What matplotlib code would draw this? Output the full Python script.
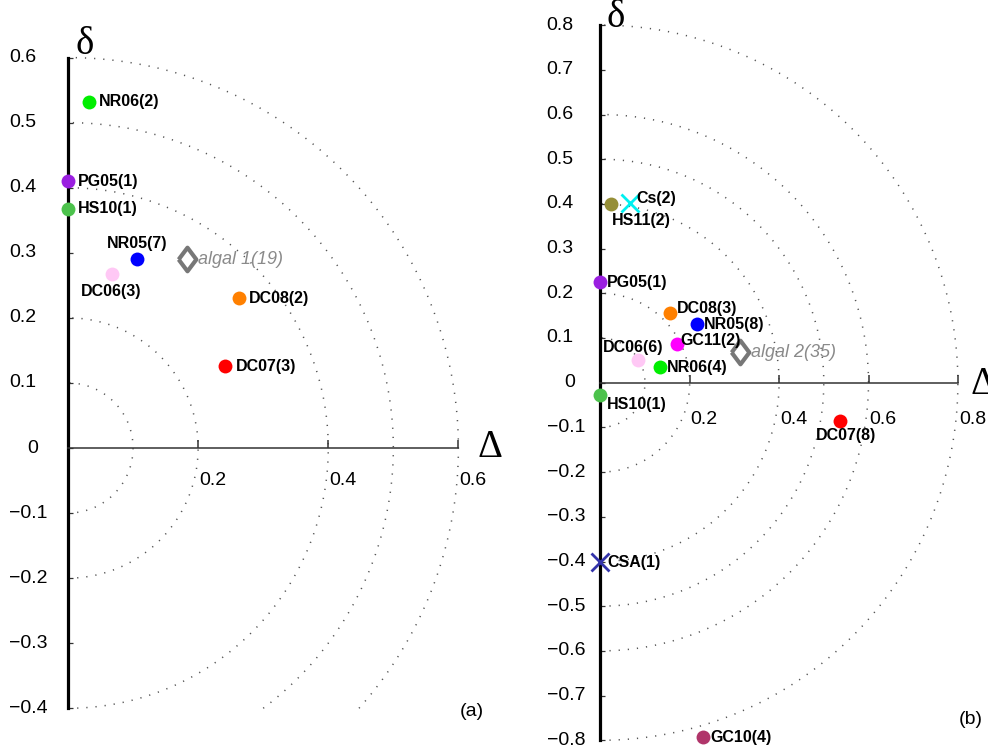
import numpy as np
import matplotlib
matplotlib.use("Agg")
import matplotlib.pyplot as plt

plt.rcParams['font.family'] = ['Liberation Sans', 'DejaVu Sans']

# ---------------- data ----------------
# panel (a)
a_names = ['NR06(2)', 'PG05(1)', 'HS10(1)', 'NR05(7)', 'DC06(3)', 'DC08(2)', 'DC07(3)']
a_x = [0.032, 0.0, 0.0, 0.106, 0.067, 0.263, 0.242]
a_y = [0.532, 0.410, 0.368, 0.291, 0.267, 0.230, 0.126]
a_mean_name = 'algal 1(19)'
a_mean_x = [0.183]
a_mean_y = [0.290]
a_yticks = [0.6, 0.5, 0.4, 0.3, 0.2, 0.1, 0.0, -0.1, -0.2, -0.3, -0.4]
a_ytick_labels = ['0.6', '0.5', '0.4', '0.3', '0.2', '0.1', '0', '\u22120.1', '\u22120.2', '\u22120.3', '\u22120.4']
a_xticks = [0.2, 0.4, 0.6]
a_xtick_labels = ['0.2', '0.4', '0.6']

# panel (b)
b_names = ['HS11(2)', 'PG05(1)', 'DC08(3)', 'NR05(8)', 'GC11(2)', 'DC06(6)', 'NR06(4)',
           'HS10(1)', 'DC07(8)', 'GC10(4)']
b_x = [0.024, 0.0, 0.156, 0.217, 0.171, 0.084, 0.134, 0.0, 0.536, 0.230]
b_y = [0.399, 0.225, 0.155, 0.131, 0.086, 0.051, 0.035, -0.027, -0.085, -0.792]
b_cross_names = ['Cs(2)', 'CSA(1)']
b_cross_x = [0.066, 0.0]
b_cross_y = [0.401, -0.400]
b_mean_name = 'algal 2(35)'
b_mean_x = [0.313]
b_mean_y = [0.068]
b_yticks = [0.8, 0.7, 0.6, 0.5, 0.4, 0.3, 0.2, 0.1, 0.0, -0.1, -0.2, -0.3, -0.4, -0.5, -0.6, -0.7, -0.8]
b_ytick_labels = ['0.8', '0.7', '0.6', '0.5', '0.4', '0.3', '0.2', '0.1', '0',
                  '\u22120.1', '\u22120.2', '\u22120.3', '\u22120.4', '\u22120.5', '\u22120.6', '\u22120.7', '\u22120.8']
b_xticks = [0.2, 0.4, 0.6, 0.8]
b_xtick_labels = ['0.2', '0.4', '0.6', '0.8']

arc_radii = [0.1, 0.2, 0.4, 0.5, 0.6, 0.8]

# ---------------- styles ----------------
colors = {
    'NR06': '#00ee00', 'PG05': '#9a1fe0', 'HS10': '#4cc24c', 'NR05': '#0000ff',
    'DC06': '#ffc8f5', 'DC08': '#ff8000', 'DC07': '#ff0000', 'HS11': '#968f37',
    'GC11': '#ff00ff', 'GC10': '#b0356a', 'Cs': '#00f0f0', 'CSA': '#3333aa',
}
# label offsets in pixels (dx, dy, ha)
a_offsets = {
    'NR06(2)': (10.5, 0, 'left'), 'PG05(1)': (10, 0, 'left'), 'HS10(1)': (10, 0, 'left'),
    'NR05(7)': (0, 15, 'center'), 'DC06(3)': (0, -17, 'center'),
    'DC08(2)': (10, 0, 'left'), 'DC07(3)': (10, 0, 'left'),
}
b_offsets = {
    'HS11(2)': (0.5, -16, 'left'), 'PG05(1)': (7, 0, 'left'), 'DC08(3)': (7, 5, 'left'),
    'NR05(8)': (7, -0.5, 'left'), 'GC11(2)': (3.5, 3.5, 'left'), 'DC06(6)': (-4.5, 12, 'center'),
    'NR06(4)': (6.5, -0.5, 'left'), 'HS10(1)': (7, -10, 'left'), 'DC07(8)': (6.5, -15, 'center'),
    'GC10(4)': (7.5, -1, 'left'), 'Cs(2)': (7, 5, 'left'), 'CSA(1)': (7, -1, 'left'),
}

W, H = 988, 746
fig = plt.figure(figsize=(W / 100, H / 100), dpi=100)


def place(ax, ox, oy, s, xlim, ylim):
    lp = ox + xlim[0] * s
    rp = ox + xlim[1] * s
    tp = oy - ylim[1] * s
    bp = oy - ylim[0] * s
    ax.set_position([lp / W, 1 - bp / H, (rp - lp) / W, (bp - tp) / H])
    ax.set_xlim(*xlim)
    ax.set_ylim(*ylim)


diamond = [(-0.75, 0), (0, 1), (0.75, 0), (0, -1), (-0.75, 0)]


def panel(ax, ox, oy, s, xlim, ylim, ymin, ymax, xmax, yticks, ylabels, ylab_left, zero_right,
          xticks, xlabels, xlab_dy, names, xs, ys, offsets, mean_name, mx, my,
          cross_names=None, cx=None, cy=None, delta_off=(17, 14), Delta_off=(20, 0)):
    place(ax, ox, oy, s, xlim, ylim)
    ax.set_facecolor('none')
    for sp in ['top', 'right']:
        ax.spines[sp].set_visible(False)
    ax.spines['left'].set_position(('data', 0))
    ax.spines['bottom'].set_position(('data', 0))
    ax.spines['left'].set_bounds(ymin, ymax)
    ax.spines['bottom'].set_bounds(0, xmax)
    ax.spines['left'].set_linewidth(2.3)
    ax.spines['bottom'].set_linewidth(1.1)
    ax.spines['bottom'].set_color('#333333')
    ax.set_yticks(yticks)
    ax.set_xticks(xticks)
    ax.tick_params(axis='y', direction='in', length=3.5, width=0.9, labelleft=False, color='#333333')
    ax.tick_params(axis='x', direction='in', length=6, width=1.1, labelbottom=False, color='#333333')

    # dotted arcs
    for r in arc_radii:
        if r > max(abs(ymin), abs(ymax)) + 1e-9:
            continue
        t0 = -np.arcsin(min(1.0, abs(ymin) / r))
        t1 = np.arcsin(min(1.0, abs(ymax) / r))
        t = np.linspace(t0, t1, 400)
        ax.plot(r * np.cos(t), r * np.sin(t), ls=(0, (0.8, 5.2)), lw=1.1, color='#555555', zorder=1)

    # tick labels
    for v, lab in zip(yticks, ylabels):
        if lab == '0':
            ax.annotate(lab, (0, v), xytext=(zero_right, 0), textcoords='offset pixels',
                        ha='right', va='center', fontsize=14)
        else:
            ax.annotate(lab, (0, v), xytext=(ylab_left, 0), textcoords='offset pixels',
                        ha='left', va='center', fontsize=14, annotation_clip=False)
    for v, lab in zip(xticks, xlabels):
        ax.annotate(lab, (v, 0), xytext=(1, xlab_dy), textcoords='offset pixels',
                    ha='left', va='top', fontsize=14)

    # points
    for n, x, y in zip(names, xs, ys):
        key = n.split('(')[0]
        ax.plot([x], [y], marker='o', ms=10, color=colors[key], mec=colors[key], mew=0,
                ls='none', zorder=4, clip_on=False)
        dx, dy, ha = offsets[n]
        ax.annotate(n, (x, y), xytext=(dx, dy), textcoords='offset pixels', ha=ha, va='center',
                    fontsize=11.5, fontweight='bold', zorder=5)
    if cross_names:
        for n, x, y in zip(cross_names, cx, cy):
            key = n.split('(')[0]
            ax.plot([x], [y], marker='x', ms=13, mew=2, color=colors[key], ls='none', zorder=4,
                    clip_on=False)
            dx, dy, ha = offsets[n]
            ax.annotate(n, (x, y), xytext=(dx, dy), textcoords='offset pixels', ha=ha, va='center',
                        fontsize=11.5, fontweight='bold', zorder=5)
    ax.plot(mx, my, marker=diamond, ms=17, mfc='white', mec='#777777', mew=3, ls='none', zorder=4)
    ax.annotate(mean_name, (mx[0], my[0]), xytext=(11, 0), textcoords='offset pixels',
                ha='left', va='center', fontsize=13, style='italic', color='#8a8a8a', zorder=5)

    ax.annotate('\u03b4', (0, ymax), xytext=delta_off, textcoords='offset pixels', ha='center',
                va='center', fontsize=28, family='Liberation Serif')
    ax.annotate('\u0394', (xmax, 0), xytext=Delta_off, textcoords='offset pixels', ha='left',
                va='center', fontsize=28, family='Liberation Serif', annotation_clip=False)


ax1 = fig.add_axes([0, 0, 0.1, 0.1])
panel(ax1, 68.0, 448.0, 650.7, (-0.1, 0.66), (-0.45, 0.66), -0.4, 0.6, 0.6,
      a_yticks, a_ytick_labels, -58.7, -29.7, a_xticks, a_xtick_labels, -24,
      a_names, a_x, a_y, a_offsets, a_mean_name, a_mean_x, a_mean_y,
      delta_off=(17, 13), Delta_off=(19, 1))

ax2 = fig.add_axes([0.5, 0, 0.1, 0.1])
panel(ax2, 600.3, 382.7, 447.0, (-0.13, 0.865), (-0.81, 0.84), -0.8, 0.8, 0.8,
      b_yticks, b_ytick_labels, -53.6, -25.3, b_xticks, b_xtick_labels, -28,
      b_names, b_x, b_y, b_offsets, b_mean_name, b_mean_x, b_mean_y,
      b_cross_names, b_cross_x, b_cross_y, delta_off=(15, 8), Delta_off=(13, -2))

fig.text(471.5 / W, 1 - 711.5 / H, '(a)', ha='center', va='center', fontsize=14)
fig.text(970.5 / W, 1 - 720 / H, '(b)', ha='center', va='center', fontsize=14)

fig.savefig('out.png', dpi=100)
